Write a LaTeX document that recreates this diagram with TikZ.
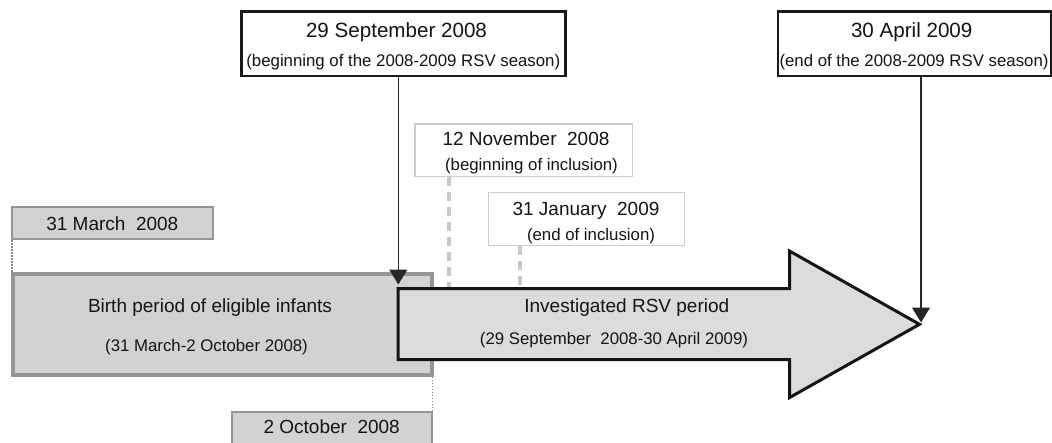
\documentclass[tikz,border=0pt]{standalone}
\usepackage{fontspec}
\setmainfont{Liberation Sans}
\usetikzlibrary{arrows.meta}
\definecolor{txt}{HTML}{151314}
\definecolor{boxgray}{HTML}{D1D2D4}
\definecolor{edgegray}{HTML}{959595}
\definecolor{lightedge}{HTML}{CDCDCD}
\definecolor{dashgray}{HTML}{C8C8C8}
\definecolor{dotgray}{HTML}{8A8A8A}
\definecolor{arrowfill}{HTML}{DCDCDC}
\begin{document}
\begin{tikzpicture}[x=1pt,y=-1pt,
  bigt/.style={font=\fontsize{20.6}{24}\selectfont, text=txt, anchor=base, inner sep=0pt},
  midt/.style={font=\fontsize{19}{23}\selectfont, text=txt, anchor=base, inner sep=0pt},
  smallt/.style={font=\fontsize{16.8}{20}\selectfont, text=txt, anchor=base, inner sep=0pt},
  topbox/.style={draw=black!90, line width=2.5pt, fill=white, inner sep=0pt, rectangle},
  incbox/.style={draw=lightedge, line width=1.5pt, fill=white, inner sep=0pt, rectangle},
  datebox/.style={draw=edgegray, line width=2pt, fill=boxgray, inner sep=0pt, rectangle},
  birthbox/.style={draw=edgegray, line width=4pt, fill=boxgray, inner sep=0pt, rectangle},
  rsvarrow/.style={draw=black!92, line width=3pt, fill=arrowfill, line join=miter},
  pointer/.style={draw=black!85, line width=1.2pt, -{Triangle[width=18pt,length=15pt]}},
  dashline/.style={draw=dashgray, line width=3.5pt, dash pattern=on 9pt off 6pt},
  dotline/.style={draw=dotgray, line width=1.6pt, dash pattern=on 1.5pt off 1.5pt}]
\clip (0,0) rectangle (1052,442);
\fill[white] (0,0) rectangle (1052,442);

% boxes
\node[topbox, minimum width=324.2pt, minimum height=64.5pt] (b29) at (403.35,43.5) {};
\node[topbox, minimum width=273pt, minimum height=64.5pt] (b30) at (914.5,43.5) {};
\node[incbox, minimum width=217.5pt, minimum height=52.5pt] (nov12) at (523.5,150) {};
\node[incbox, minimum width=195.8pt, minimum height=52.8pt] (jan31) at (586.35,218.85) {};
\node[datebox, minimum width=201.3pt, minimum height=32.3pt] (m31) at (112.65,222.85) {};
\node[datebox, minimum width=200.6pt, minimum height=58.3pt] (oct2) at (332,440.85) {};
\node[birthbox, minimum width=419pt, minimum height=101pt] (birth) at (222.5,324.2) {};

% dotted links
\draw[dotline] (birth.north west) ++(0.7,0) coordinate (bnw) -- (bnw |- m31.south);
\draw[dotline] (birth.south east) ++(-1.5,0) coordinate (bse) -- (bse |- oct2.north);

% dashed inclusion lines
\coordinate (d1) at (449,288);
\coordinate (d2) at (520,288);
\draw[dashline] (d1 |- nov12.south) -- (d1);
\draw[dashline] (d2 |- jan31.south) -- (d2);

% RSV arrow
\draw[rsvarrow] (398,288.5) -- (789.5,288.5) -- (789.5,251) -- (919.5,324.3)
  -- (789.5,397.6) -- (789.5,359.5) -- (398,359.5) -- cycle;
\coordinate (rsvtip) at (921,322.5);
\coordinate (rsvstart) at (398.3,284.5);

% pointers
\draw[pointer] (rsvstart |- b29.south) -- (rsvstart);
\draw[pointer] (rsvtip |- b30.south) -- (rsvtip);

% texts
\node[bigt] at (396.5,37.7) {29 September 2008};
\node[smallt] at (403.3,66.3) {(beginning of the 2008-2009 RSV season)};
\node[bigt] at (911.7,37.7) {30 April 2009};
\node[smallt] at (914,66.3) {(end of the 2008-2009 RSV season)};
\node[midt] at (526,145) {12 November\ \ 2008};
\node[smallt] at (531.5,170) {(beginning of inclusion)};
\node[midt] at (586,215.7) {31 January\ \ 2009};
\node[smallt] at (591,240) {(end of inclusion)};
\node[midt] at (112.3,230) {31 March\ \ 2008};
\node[midt] at (331.7,433.3) {2 October\ \ 2008};
\node[midt] at (210,312.7) {Birth period of eligible infants};
\node[smallt] at (206.5,351) {(31 March-2 October 2008)};
\node[midt] at (626.8,312.5) {Investigated RSV period};
\node[smallt] at (614,344) {(29 September\ \ 2008-30 April 2009)};
\end{tikzpicture}
\end{document}
